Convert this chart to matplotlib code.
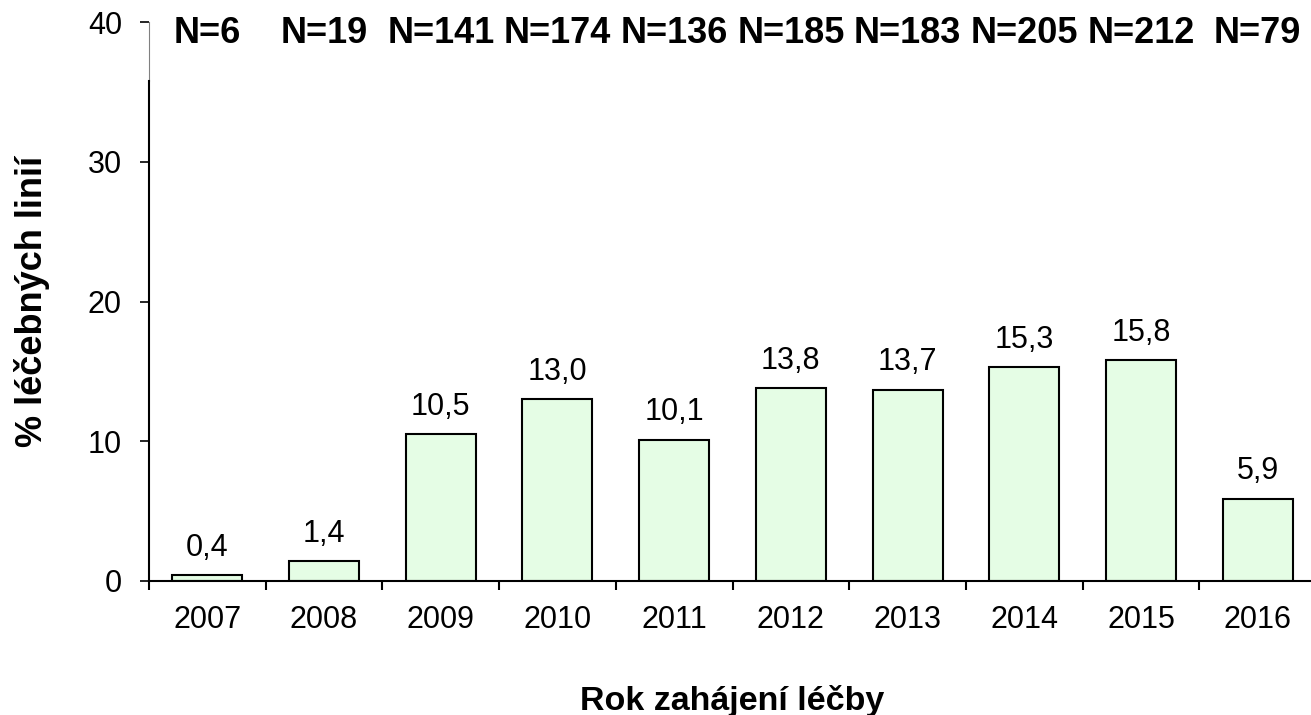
import numpy as np
import matplotlib.pyplot as plt

plt.rcParams["font.family"] = ["Liberation Sans", "DejaVu Sans"]

# data
years = ["2007", "2008", "2009", "2010", "2011", "2012", "2013", "2014", "2015", "2016"]
values = [0.4, 1.4, 10.5, 13.0, 10.1, 13.8, 13.7, 15.3, 15.8, 5.9]
counts = [6, 19, 141, 174, 136, 185, 183, 205, 212, 79]

fig = plt.figure(figsize=(13.11, 7.15), dpi=100)
ax = fig.add_axes([149 / 1311, 134 / 715, 1167 / 1311, 559 / 715])

x = np.arange(len(years))
ax.bar(x, values, width=0.6, color="#e5fde5", edgecolor="black", linewidth=1.5, zorder=2)

for xi, v in zip(x, values):
    ax.text(xi, v + 0.9, f"{v:.1f}".replace(".", ","), ha="center", va="bottom", fontsize=22)

for xi, n in zip(x, counts):
    ax.text(xi, 38.5, f"N={n}", ha="center", va="baseline", fontsize=26, fontweight="bold")

ax.set_xlim(-0.5, 9.5)
ax.set_ylim(0, 40)
ax.set_yticks([0, 10, 20, 30, 40])
ax.set_xticks(x)
ax.set_xticklabels(years)
ax.set_xticks(np.arange(-0.5, 9.5, 1), minor=True)
ax.tick_params(axis="x", which="major", length=0, labelsize=22, pad=17)
ax.tick_params(axis="x", which="minor", length=6.5, width=1.5, direction="out")
ax.tick_params(axis="y", length=6.5, width=1.2, labelsize=22, pad=13)

for s in ["top", "right"]:
    ax.spines[s].set_visible(False)
ax.spines["bottom"].set_linewidth(1.5)
ax.spines["left"].set_linewidth(1.5)
ax.spines["left"].set_bounds(0, 35.8)
ax.plot([-0.5, -0.5], [35.8, 40], color="gray", lw=0.8, clip_on=False)

ax.set_ylabel("% léčebných linií", fontsize=26, fontweight="bold", labelpad=27)
ax.set_xlabel("Rok zahájení léčby", fontsize=24.5, fontweight="bold", labelpad=36)

fig.savefig("out.png", dpi=100)
